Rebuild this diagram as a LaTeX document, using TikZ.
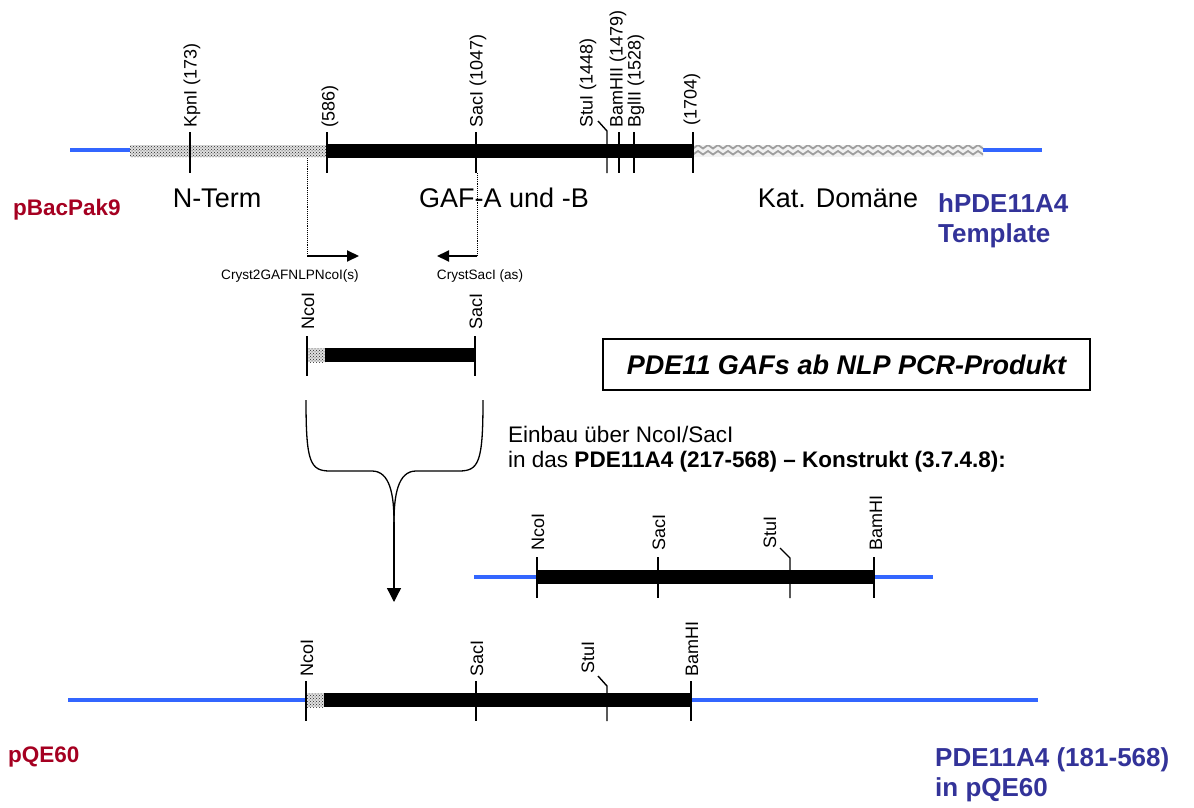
\documentclass[tikz,border=0pt]{standalone}
\usepackage{fontspec}
\setmainfont{Liberation Sans}
\usetikzlibrary{arrows.meta,patterns}

\definecolor{vecblue}{RGB}{51,102,255}
\definecolor{plasred}{RGB}{165,0,33}
\definecolor{insnavy}{RGB}{51,51,153}

\tikzset{
  vec/.style={line width=4pt, draw=vecblue},
  tick/.style={line width=1.4pt},
  site/.style={rotate=90, anchor=west, inner sep=0pt, font=\fontsize{18}{18}\selectfont},
  regionlabel/.style={inner sep=0pt, font=\fontsize{27}{30}\selectfont},
  plasmid/.style={anchor=west, inner sep=0pt, align=left, text=plasred, font=\bfseries\fontsize{22.5}{26}\selectfont},
  insertname/.style={anchor=west, inner sep=0pt, align=left, text=insnavy, font=\bfseries\fontsize{26}{30.5}\selectfont},
  primer/.style={inner sep=0pt, font=\fontsize{13.6}{15}\selectfont},
  stipple/.style={pattern=crosshatch dots, pattern color=black!85},
  guide/.style={densely dotted, line width=0.9pt},
  primarrow/.style={line width=2pt, -{Triangle[length=12pt,width=11pt]}}
}

\begin{document}
\begin{tikzpicture}[x=1pt, y=-1pt]
\useasboundingbox (0,0) rectangle (1194,808);

% template hPDE11A4
\draw[vec] (70,150) -- (130,150);
\draw[vec] (983,150) -- (1042,150);
\fill[gray!25] (130,145) rectangle (326,157);
\fill[stipple] (130,145) rectangle (326,157);
\fill (326,144) rectangle (693,157.5);
\begin{scope}
\clip (693,145) rectangle (983,157);
\fill[gray!10] (693,145) rectangle (983,157);
\foreach \y in {148.5,154.5}
  \draw[gray!75, line width=1.8pt] (693,\y) \foreach \k in {1,...,30}{ -- ++(5,-3.5) -- ++(5,3.5)};
\end{scope}
\draw[tick] (190,132) -- (190,173);
\draw[tick] (327,132) -- (327,173);
\draw[tick] (476,132) -- (476,173);
\draw[tick] (598,121) -- (607,131) -- (607,173);
\draw[tick] (619,132) -- (619,173);
\draw[tick] (634,132) -- (634,173);
\draw[tick] (693,132) -- (693,173);
\node[site] (kpn) at (192,128) {KpnI (173)};
\node[site] (p586) at (330,128) {(586)};
\node[site] (sac1) at (478,128) {SacI (1047)};
\node[site] (stu1) at (588,128) {StuI (1448)};
\node[site] (bam1) at (618,128) {BamHII (1479)};
\node[site] (bgl1) at (636,128) {BglII (1528)};
\node[site] (p1704) at (692,126) {(1704)};

\node[regionlabel] (nterm) at (217,198) {N-Term};
\node[regionlabel] (gaf) at (504,198) {GAF-A und -B};
\node[regionlabel] (kat) at (838,198) {Kat. Domäne};
\node[plasmid] (bac) at (13,210) {pBacPak9};
\node[insertname] (tmpl) at (938,221) {hPDE11A4\\Template};

% primers
\coordinate (fwdtop) at (307,158);
\coordinate (fwd) at (307,256);
\coordinate (fwdend) at (359,256);
\coordinate (revtop) at (477,173);
\coordinate (rev) at (477,256);
\coordinate (revend) at (437,256);
\draw[guide] (fwdtop) -- (fwd);
\draw[guide] (revtop) -- (rev);
\draw[primarrow] (fwd) -- (fwdend);
\draw[primarrow] (rev) -- (revend);
\node[primer] (pfwd) at (290,276) {Cryst2GAFNLPNcoI(s)};
\node[primer] (prev) at (480,276) {CrystSacI (as)};

% PCR product
\fill[gray!25] (307,348) rectangle (325,362);
\fill[stipple] (307,348) rectangle (325,362);
\fill (325,348) rectangle (475,362);
\draw[tick] (307,336) -- (307,376);
\draw[tick] (475,336) -- (475,376);
\node[site] (nco2) at (308,330) {NcoI};
\node[site] (sac2) at (476,330) {SacI};

\node[draw, line width=1.3pt, minimum width=487pt, minimum height=51pt, inner sep=0pt,
      font=\bfseries\itshape\fontsize{27}{30}\selectfont] (title) at (846.5,364.5) {PDE11 GAFs ab NLP PCR-Produkt};

% funnel
\coordinate (funl) at (306,400);
\coordinate (funr) at (483,400);
\coordinate (join) at (394,522);
\coordinate (tip) at (394,602);
\draw[line width=1.3pt] (funl) .. controls (306,462) and (310,471) .. (330,471) -- (372,471)
  .. controls (390,471) and (394,495) .. (join);
\draw[line width=1.3pt] (funr) .. controls (483,462) and (479,471) .. (459,471) -- (416,471)
  .. controls (398,471) and (394,495) .. (join);
\draw[line width=1.3pt, -{Triangle[length=14pt,width=14pt]}] (join) -- (tip);

\node[anchor=west, inner sep=0pt, align=left, font=\fontsize{22.5}{25.5}\selectfont] (einbau) at (508,449)
  {Einbau über NcoI/SacI\\in das \textbf{PDE11A4 (217-568) – Konstrukt (3.7.4.8):}};

% PDE11A4 (217-568) construct
\draw[vec] (474,577) -- (537,577);
\draw[vec] (874,577) -- (933,577);
\fill (537,570) rectangle (874,584);
\draw[tick] (537,557) -- (537,598);
\draw[tick] (658,557) -- (658,598);
\draw[tick] (780,548) -- (790,558) -- (790,598);
\draw[tick] (874,557) -- (874,598);
\node[site] (nco3) at (538,551) {NcoI};
\node[site] (sac3) at (659,551) {SacI};
\node[site] (stu3) at (770,549) {StuI};
\node[site] (bam3) at (876,551) {BamHI};

% final construct in pQE60
\draw[vec] (68,700) -- (306,700);
\draw[vec] (691,700) -- (1038,700);
\fill[gray!25] (306,693) rectangle (324,707);
\fill[stipple] (306,693) rectangle (324,707);
\fill (324,693) rectangle (691,707);
\draw[tick] (306,681) -- (306,721);
\draw[tick] (476,681) -- (476,721);
\draw[tick] (598,676) -- (607,686) -- (607,721);
\draw[tick] (691,681) -- (691,721);
\node[site] (nco4) at (307,677) {NcoI};
\node[site] (sac4) at (477,677) {SacI};
\node[site] (stu4) at (588,674) {StuI};
\node[site] (bam4) at (692,677) {BamHI};

\node[plasmid] (pqe) at (8,757) {pQE60};
\node[insertname] (final) at (935,775) {PDE11A4 (181-568)\\in pQE60};
\end{tikzpicture}
\end{document}
